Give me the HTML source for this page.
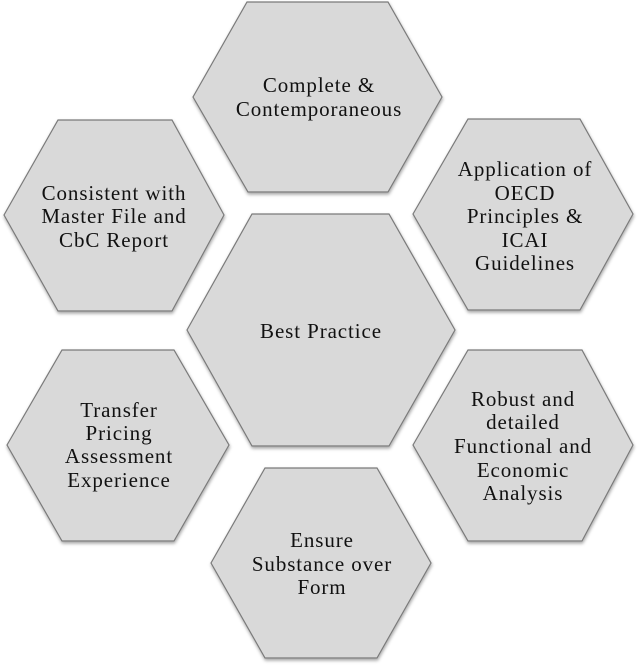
<!DOCTYPE html>
<html>
<head>
<meta charset="utf-8">
<style>
  html, body { margin: 0; padding: 0; background: #ffffff; }
  body { width: 639px; height: 667px; overflow: hidden; }
  svg { display: block; }
  text { font-family: "Liberation Serif", "Times New Roman", serif; font-size: 21px; fill: #111111; letter-spacing: 0.9px; }
</style>
</head>
<body>
<svg width="639" height="667" viewBox="0 0 639 667" xmlns="http://www.w3.org/2000/svg">
  <defs>
    <filter id="sh" x="-10%" y="-10%" width="120%" height="125%">
      <feDropShadow dx="0.5" dy="2" stdDeviation="1.5" flood-color="#000000" flood-opacity="0.35"/>
    </filter>
  </defs>
  <g fill="#d9d9d9" stroke="#7a7a7a" stroke-width="1.2" filter="url(#sh)">
    <polygon points="193,97 247,2 388,2 442,97 388,192 248,192"/>
    <polygon points="4,215 58,120 172,120 224,215 172,311 58,311"/>
    <polygon points="413,214 468,119 580,119 633,214 580,310 468,310"/>
    <polygon points="187,330 252,214 389,214 455,330 389,446 252,446"/>
    <polygon points="7,445 62,350 174,350 229,445 174,541 62,541"/>
    <polygon points="413,445 468,350 582,350 633,445 582,541 468,541"/>
    <polygon points="211,563 265,468 377,468 431,563 377,658 265,658"/>
  </g>
  <g text-anchor="middle">
    <text x="319" y="92">Complete &amp;</text>
    <text x="319" y="116">Contemporaneous</text>

    <text x="114" y="200">Consistent with</text>
    <text x="114" y="223">Master File and</text>
    <text x="114" y="247">CbC Report</text>

    <text x="525" y="176">Application of</text>
    <text x="525" y="200">OECD</text>
    <text x="525" y="223">Principles &amp;</text>
    <text x="525" y="247">ICAI</text>
    <text x="525" y="270">Guidelines</text>

    <text x="321" y="338">Best Practice</text>

    <text x="119" y="417">Transfer</text>
    <text x="119" y="440">Pricing</text>
    <text x="119" y="463">Assessment</text>
    <text x="119" y="487">Experience</text>

    <text x="523" y="406">Robust and</text>
    <text x="523" y="429">detailed</text>
    <text x="523" y="453">Functional and</text>
    <text x="523" y="477">Economic</text>
    <text x="523" y="500">Analysis</text>

    <text x="322" y="547">Ensure</text>
    <text x="322" y="571">Substance over</text>
    <text x="322" y="594">Form</text>
  </g>
</svg>
</body>
</html>
